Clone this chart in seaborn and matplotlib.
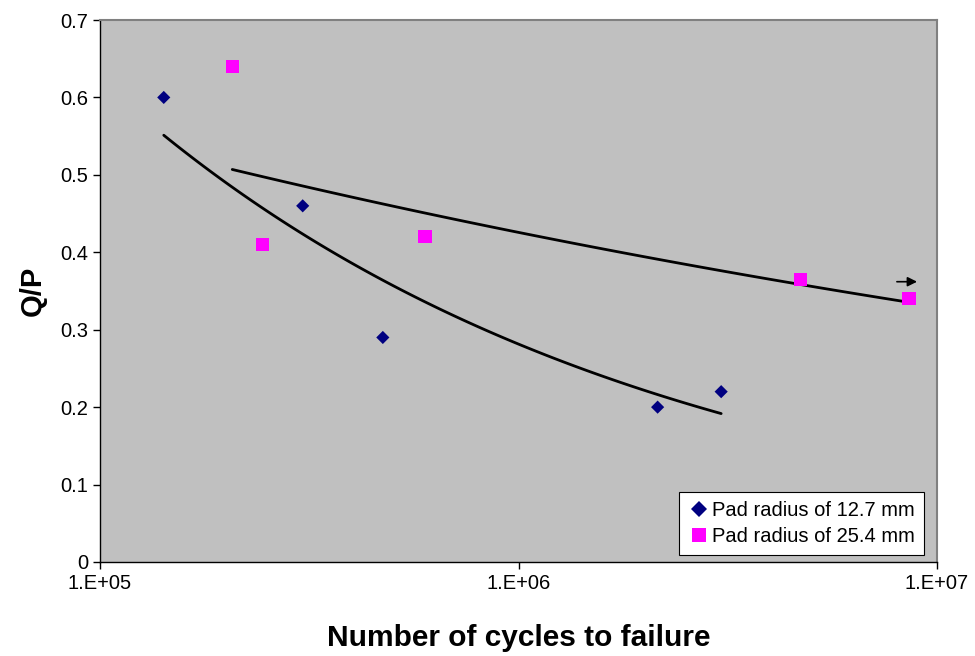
import numpy as np
import pandas as pd
import matplotlib
matplotlib.use("Agg")
import matplotlib.pyplot as plt
import seaborn as sns

# --- data ---
cycles_small = [1.42e5, 3.05e5, 4.74e5, 2.15e6, 3.05e6]
qp_small = [0.60, 0.46, 0.29, 0.20, 0.22]

cycles_large = [2.07e5, 2.44e5, 5.98e5, 4.71e6, 8.57e6]
qp_large = [0.64, 0.41, 0.42, 0.365, 0.34]

label_small = "Pad radius of 12.7 mm"
label_large = "Pad radius of 25.4 mm"

df = pd.DataFrame({
    "cycles": cycles_small + cycles_large,
    "qp": qp_small + qp_large,
    "series": [label_small] * len(cycles_small) + [label_large] * len(cycles_large),
})

sns.set_style("ticks")
plt.rcParams["font.family"] = ["Liberation Sans", "DejaVu Sans"]
plt.rcParams["text.color"] = "black"
plt.rcParams["axes.labelcolor"] = "black"
plt.rcParams["xtick.color"] = "black"
plt.rcParams["ytick.color"] = "black"

fig = plt.figure(figsize=(9.75, 6.56), dpi=100)
ax = fig.add_axes([0.1026, 0.1433, 0.8584, 0.8262])
ax.set_facecolor("#C0C0C0")

palette = {label_small: "#000080", label_large: "#FF00FF"}
markers = {label_small: "D", label_large: "s"}
sizes = {label_small: 45, label_large: 90}

sns.scatterplot(data=df, x="cycles", y="qp", hue="series", style="series",
                palette=palette, markers=markers,
                s=60, linewidth=0, ax=ax, zorder=3, legend=False)
# diamond a bit smaller than the square
ax.collections[0].set_sizes([sizes[c] for c in df["series"]])


def power_trend(x, y):
    """Excel-style power trendline y = a * x^b"""
    b, loga = np.polyfit(np.log(x), np.log(y), 1)
    xs = np.logspace(np.log10(min(x)), np.log10(max(x)), 100)
    return xs, np.exp(loga) * xs ** b


for xs_, ys_ in [power_trend(cycles_small, qp_small), power_trend(cycles_large, qp_large)]:
    ax.plot(xs_, ys_, color="black", lw=2, zorder=2)

# run-out arrow
ax.annotate("", xy=(9.1e6, 0.362), xytext=(7.9e6, 0.362),
            arrowprops=dict(arrowstyle="-|>", color="black", lw=1.2, mutation_scale=14))

ax.set_xscale("log")
ax.set_xlim(1e5, 1e7)
ax.set_ylim(0, 0.7)
ax.set_xticks([1e5, 1e6, 1e7])
ax.set_xticklabels(["1.E+05", "1.E+06", "1.E+07"])
ax.xaxis.set_minor_locator(matplotlib.ticker.NullLocator())
ax.set_yticks(np.arange(0, 0.71, 0.1))
ax.set_yticklabels(["0"] + [f"{v:.1f}" for v in np.arange(0.1, 0.71, 0.1)])
ax.tick_params(labelsize=14.5, length=5, width=1, direction="out", color="black")
ax.tick_params(axis="x", pad=4)

for side in ["top", "right"]:
    ax.spines[side].set_color("#808080")
    ax.spines[side].set_linewidth(1.5)
for side in ["left", "bottom"]:
    ax.spines[side].set_color("black")
    ax.spines[side].set_linewidth(1)

ax.set_xlabel("Number of cycles to failure", fontsize=21.5, fontweight="bold", labelpad=22)
ax.set_ylabel("Q/P", fontsize=21, fontweight="bold", labelpad=10)

handles = [
    plt.Line2D([], [], ls="", marker=markers[k], color=palette[k], markeredgewidth=0,
               markersize=np.sqrt(sizes[k]) * (1.15 if k == label_small else 1.0), label=k)
    for k in [label_small, label_large]
]
leg = ax.legend(handles=handles, loc="lower right", bbox_to_anchor=(0.9845, 0.013),
                fontsize=14.5, frameon=True, fancybox=False,
                borderaxespad=0, handletextpad=0.1, borderpad=0.45, labelspacing=0.35,
                handlelength=1.1)
leg.get_frame().set_edgecolor("black")
leg.get_frame().set_facecolor("white")
leg.get_frame().set_linewidth(0.8)
leg.get_frame().set_alpha(1)

fig.savefig("out.png", dpi=100)
